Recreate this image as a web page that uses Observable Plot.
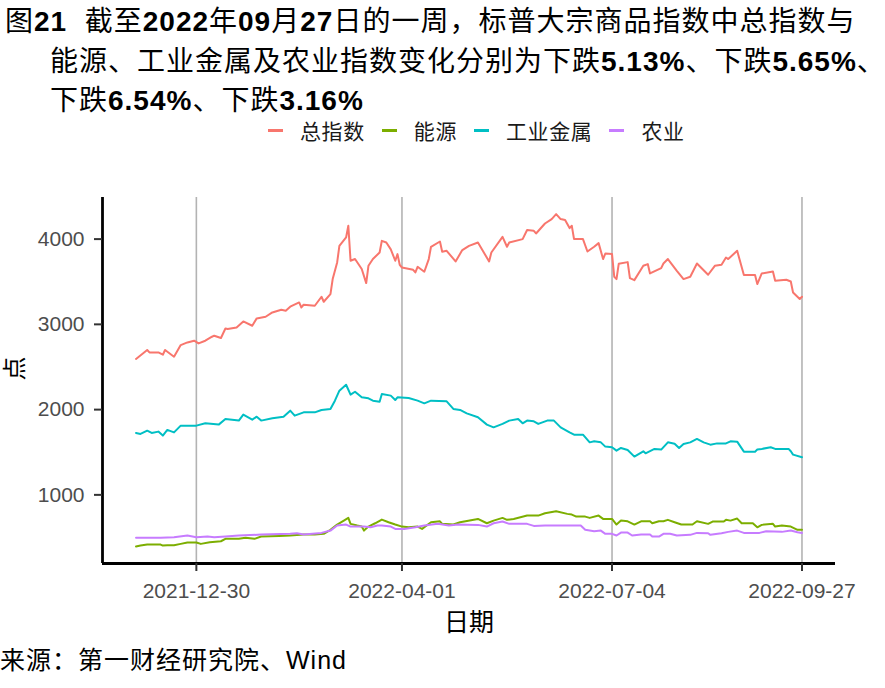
<!DOCTYPE html>
<html><head><meta charset="utf-8">
<script src="https://cdn.jsdelivr.net/npm/d3@7"></script>
<script src="https://cdn.jsdelivr.net/npm/@observablehq/plot@0.6"></script>
<style>
html,body{margin:0;padding:0;background:#fff;overflow:hidden;}
#wrap{position:relative;width:885px;height:688px;overflow:hidden;font-family:"Liberation Sans","Noto Sans CJK SC",sans-serif;color:#000;}
#title{position:absolute;left:5px;top:2px;font-size:28px;line-height:39.5px;white-space:pre;letter-spacing:1px;}
#title b{font-weight:bold;}
#title .ind{padding-left:45px;}
#legend{position:absolute;top:118px;left:268px;height:24px;display:flex;align-items:center;font-size:21px;white-space:nowrap;}
.key{display:inline-block;width:15px;height:3px;margin-right:17px;}
.lab{margin-right:17px;color:#1a1a1a;letter-spacing:0.6px;}
#chart{position:absolute;left:0;top:150px;}
#caption{position:absolute;left:0;top:645px;font-size:25px;line-height:30px;white-space:nowrap;letter-spacing:1px;}
</style></head><body>
<div id="wrap">
<div id="title"><div>图<b>21</b>  截至<b>2022</b>年<b>09</b>月<b>27</b>日的一周，标普大宗商品指数中总指数与</div><div class="ind">能源、工业金属及农业指数变化分别为下跌<b>5.13%</b>、下跌<b>5.65%</b>、</div><div class="ind">下跌<b>6.54%</b>、下跌<b>3.16%</b></div></div>
<div id="legend"></div>
<div id="chart"></div>
<div id="caption">来源：第一财经研究院、Wind</div>
</div>
<script>
const seriesNames = ["总指数","能源","工业金属","农业"];
const seriesColors = ["#F8766D","#7CAE00","#00BFC4","#C77CFF"];
const xTickDates = ["2021-12-30","2022-04-01","2022-07-04","2022-09-27"];
const yTicks = [1000,2000,3000,4000];
const xDomain = ["2021-11-18","2022-10-12"];
const yDomain = [195, 4488];

const totalDates = ["2021-12-03","2021-12-08","2021-12-09","2021-12-13","2021-12-15","2021-12-16","2021-12-20","2021-12-23","2021-12-26","2021-12-29","2021-12-31","2022-01-03","2022-01-06","2022-01-07","2022-01-10","2022-01-12","2022-01-13","2022-01-17","2022-01-20","2022-01-24","2022-01-26","2022-01-30","2022-02-02","2022-02-06","2022-02-08","2022-02-10","2022-02-14","2022-02-15","2022-02-16","2022-02-21","2022-02-24","2022-02-25","2022-02-28","2022-03-01","2022-03-03","2022-03-04","2022-03-07","2022-03-08","2022-03-09","2022-03-11","2022-03-14","2022-03-16","2022-03-17","2022-03-19","2022-03-22","2022-03-23","2022-03-25","2022-03-27","2022-03-29","2022-03-30","2022-03-31","2022-04-01","2022-04-06","2022-04-07","2022-04-08","2022-04-11","2022-04-13","2022-04-14","2022-04-18","2022-04-19","2022-04-21","2022-04-25","2022-04-28","2022-05-01","2022-05-05","2022-05-10","2022-05-11","2022-05-16","2022-05-18","2022-05-19","2022-05-25","2022-05-27","2022-05-30","2022-05-31","2022-06-04","2022-06-07","2022-06-09","2022-06-11","2022-06-13","2022-06-15","2022-06-16","2022-06-17","2022-06-21","2022-06-23","2022-06-26","2022-06-28","2022-06-30","2022-07-01","2022-07-04","2022-07-05","2022-07-06","2022-07-07","2022-07-11","2022-07-12","2022-07-14","2022-07-18","2022-07-20","2022-07-21","2022-07-26","2022-07-27","2022-07-29","2022-08-02","2022-08-05","2022-08-08","2022-08-11","2022-08-16","2022-08-19","2022-08-22","2022-08-24","2022-08-25","2022-08-29","2022-09-01","2022-09-06","2022-09-07","2022-09-09","2022-09-14","2022-09-15","2022-09-20","2022-09-22","2022-09-23","2022-09-26","2022-09-27"];
const totalValues = [2594,2699,2671,2671,2644,2699,2620,2757,2788,2808,2777,2808,2855,2867,2840,2952,2945,2964,3034,2984,3070,3089,3140,3171,3160,3207,3257,3198,3230,3218,3324,3265,3355,3531,3726,3921,4019,4156,3746,3766,3649,3484,3687,3766,3843,3980,3960,3880,3746,3824,3699,3667,3640,3609,3675,3617,3766,3910,3972,3851,3863,3738,3871,3921,3960,3738,3843,4027,3910,3960,4000,4106,4097,4066,4183,4235,4293,4235,4223,4129,4156,4000,4000,3855,3910,3953,3766,3831,3824,3558,3531,3710,3730,3543,3519,3687,3707,3597,3660,3714,3766,3628,3531,3558,3714,3582,3687,3699,3784,3766,3863,3578,3578,3473,3597,3620,3511,3523,3503,3374,3297,3324];

const energyDates = ["2021-12-03","2021-12-05","2021-12-08","2021-12-14","2021-12-15","2021-12-17","2021-12-20","2021-12-23","2021-12-26","2021-12-30","2022-01-01","2022-01-05","2022-01-10","2022-01-12","2022-01-18","2022-01-21","2022-01-25","2022-01-28","2022-02-05","2022-02-10","2022-02-16","2022-02-21","2022-02-25","2022-02-28","2022-03-03","2022-03-06","2022-03-08","2022-03-09","2022-03-12","2022-03-14","2022-03-15","2022-03-17","2022-03-20","2022-03-23","2022-03-26","2022-03-29","2022-04-01","2022-04-04","2022-04-08","2022-04-10","2022-04-14","2022-04-18","2022-04-19","2022-04-24","2022-04-27","2022-05-05","2022-05-09","2022-05-12","2022-05-16","2022-05-18","2022-05-21","2022-05-27","2022-06-01","2022-06-04","2022-06-09","2022-06-14","2022-06-16","2022-06-18","2022-06-22","2022-06-24","2022-06-28","2022-06-30","2022-07-04","2022-07-06","2022-07-08","2022-07-11","2022-07-14","2022-07-17","2022-07-21","2022-07-22","2022-07-25","2022-07-27","2022-07-29","2022-08-01","2022-08-04","2022-08-09","2022-08-11","2022-08-16","2022-08-18","2022-08-23","2022-08-24","2022-08-26","2022-08-29","2022-08-31","2022-09-05","2022-09-07","2022-09-09","2022-09-14","2022-09-15","2022-09-18","2022-09-22","2022-09-25","2022-09-27"];
const energyValues = [394,405,417,417,405,409,409,425,441,441,425,444,456,484,484,496,484,511,519,523,534,534,543,590,652,698,730,660,640,628,581,628,667,710,679,652,628,620,628,601,679,690,660,652,679,718,667,698,730,707,718,757,757,784,808,777,769,745,745,730,757,718,718,652,698,690,652,690,690,667,690,690,707,679,652,652,690,660,687,687,707,698,722,667,667,620,648,660,628,640,628,590,590];

const metalDates = ["2021-12-03","2021-12-05","2021-12-08","2021-12-10","2021-12-13","2021-12-15","2021-12-17","2021-12-20","2021-12-23","2021-12-30","2022-01-03","2022-01-09","2022-01-12","2022-01-18","2022-01-20","2022-01-24","2022-01-26","2022-01-28","2022-02-02","2022-02-07","2022-02-10","2022-02-12","2022-02-16","2022-02-21","2022-02-24","2022-02-28","2022-03-02","2022-03-04","2022-03-07","2022-03-09","2022-03-11","2022-03-14","2022-03-17","2022-03-19","2022-03-22","2022-03-23","2022-03-27","2022-03-29","2022-03-30","2022-04-04","2022-04-08","2022-04-11","2022-04-14","2022-04-21","2022-04-24","2022-04-27","2022-04-30","2022-05-05","2022-05-09","2022-05-12","2022-05-16","2022-05-19","2022-05-23","2022-05-25","2022-05-27","2022-05-30","2022-06-01","2022-06-05","2022-06-08","2022-06-11","2022-06-15","2022-06-17","2022-06-21","2022-06-24","2022-06-26","2022-06-29","2022-07-01","2022-07-04","2022-07-06","2022-07-08","2022-07-11","2022-07-14","2022-07-18","2022-07-19","2022-07-23","2022-07-26","2022-07-29","2022-08-01","2022-08-03","2022-08-05","2022-08-08","2022-08-11","2022-08-14","2022-08-17","2022-08-20","2022-08-24","2022-08-26","2022-08-29","2022-09-01","2022-09-06","2022-09-07","2022-09-09","2022-09-13","2022-09-15","2022-09-21","2022-09-22","2022-09-23","2022-09-27"];
const metalValues = [1726,1715,1753,1726,1742,1695,1762,1733,1812,1812,1839,1824,1890,1871,1941,1882,1917,1871,1898,1917,1988,1929,1968,1968,1996,2008,2105,2222,2292,2175,2210,2144,2132,2105,2093,2183,2164,2113,2144,2137,2105,2074,2105,2097,2008,1996,1956,1910,1824,1792,1832,1871,1890,1839,1871,1863,1832,1871,1871,1792,1733,1706,1706,1616,1628,1616,1566,1558,1519,1550,1527,1449,1511,1487,1539,1531,1616,1600,1550,1597,1616,1656,1616,1589,1604,1604,1628,1624,1507,1507,1531,1539,1558,1539,1539,1511,1472,1441];

const agriDates = ["2021-12-03","2021-12-14","2021-12-20","2021-12-26","2021-12-30","2022-01-04","2022-01-07","2022-01-12","2022-01-18","2022-01-28","2022-02-10","2022-02-13","2022-02-16","2022-02-24","2022-02-28","2022-03-03","2022-03-07","2022-03-09","2022-03-15","2022-03-18","2022-03-21","2022-03-23","2022-03-27","2022-03-29","2022-04-02","2022-04-07","2022-04-11","2022-04-17","2022-04-22","2022-04-26","2022-05-05","2022-05-09","2022-05-12","2022-05-16","2022-05-19","2022-05-27","2022-05-30","2022-06-04","2022-06-10","2022-06-20","2022-06-22","2022-06-26","2022-06-29","2022-07-01","2022-07-04","2022-07-06","2022-07-08","2022-07-11","2022-07-13","2022-07-17","2022-07-21","2022-07-22","2022-07-25","2022-07-27","2022-07-30","2022-08-02","2022-08-08","2022-08-11","2022-08-16","2022-08-17","2022-08-22","2022-08-25","2022-08-29","2022-09-01","2022-09-08","2022-09-11","2022-09-18","2022-09-22","2022-09-25","2022-09-27"];
const agriValues = [496,496,503,523,503,511,503,511,523,534,543,550,534,554,581,640,652,628,628,620,640,640,628,601,601,620,640,660,640,652,648,628,667,687,660,660,636,640,640,640,590,573,581,543,543,523,558,558,523,534,534,511,511,543,543,523,531,554,550,531,550,566,581,554,554,573,566,581,562,554];

const parse = d3.utcParse("%Y-%m-%d");
const rows = [];
function addSeries(name, dates, vals) {
  dates.forEach((d, i) => rows.push({series: name, date: parse(d), value: vals[i]}));
}
addSeries(seriesNames[0], totalDates, totalValues);
addSeries(seriesNames[1], energyDates, energyValues);
addSeries(seriesNames[2], metalDates, metalValues);
addSeries(seriesNames[3], agriDates, agriValues);

// legend
const legend = document.getElementById("legend");
seriesNames.forEach((n, i) => {
  const k = document.createElement("span"); k.className = "key"; k.style.background = seriesColors[i];
  const l = document.createElement("span"); l.className = "lab"; l.textContent = n;
  legend.appendChild(k); legend.appendChild(l);
});

const font = "'Liberation Sans','Noto Sans CJK SC',sans-serif";
const chart = Plot.plot({
  width: 885, height: 498,
  marginLeft: 102, marginRight: 50, marginTop: 47, marginBottom: 85,
  style: {fontFamily: font, background: "white", overflow: "visible"},
  x: {type: "utc", domain: xDomain.map(parse)},
  y: {domain: yDomain},
  color: {domain: seriesNames, range: seriesColors},
  marks: [
    Plot.ruleX(xTickDates.map(parse), {stroke: "#b3b3b3", strokeWidth: 1.6}),
    Plot.line(rows, {x: "date", y: "value", z: "series", stroke: "series", strokeWidth: 2}),
    Plot.ruleY([yDomain[0]], {stroke: "#000", strokeWidth: 2.8}),
    Plot.ruleX([parse(xDomain[0])], {stroke: "#000", strokeWidth: 2.8}),
    Plot.axisY(yTicks, {tickSize: 8, tickPadding: 10, fontSize: 21, stroke: "#333", strokeWidth: 2, fill: "#4d4d4d", tickFormat: d => String(d), label: null}),
    Plot.axisX(xTickDates.map(parse), {tickSize: 8, tickPadding: 12, fontSize: 21, stroke: "#333", strokeWidth: 2, fill: "#4d4d4d", tickFormat: d3.utcFormat("%Y-%m-%d"), label: null}),
    Plot.text(["点"], {frameAnchor: "left", text: d => d, dx: -87, rotate: -90, fontSize: 24, fill: "#000"}),
    Plot.text(["日期"], {frameAnchor: "bottom", text: d => d, dy: 67, fontSize: 25, fill: "#000"})
  ]
});
document.getElementById("chart").appendChild(chart);
</script>
</body></html>
